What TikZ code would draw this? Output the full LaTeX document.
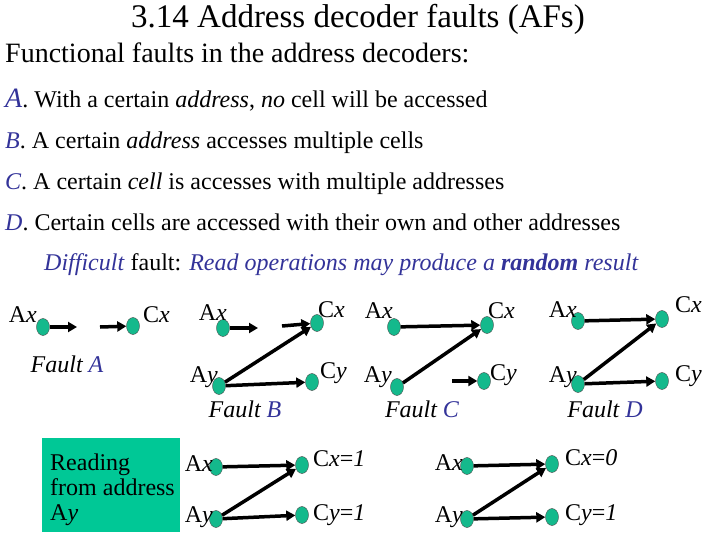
\documentclass[tikz,border=0pt]{standalone}
\usepackage{fontspec}
\setmainfont{Liberation Serif}
\usepackage{xcolor}
\usetikzlibrary{arrows.meta,positioning,shapes.geometric,backgrounds}
\definecolor{letter}{HTML}{333399}
\definecolor{cellfill}{HTML}{14B98C}
\definecolor{boxfill}{HTML}{00C896}

\begin{document}
\begin{tikzpicture}[x=1pt,y=-1pt,
  cell/.style={ellipse,draw=black!70,fill=cellfill,minimum width=13pt,
               minimum height=17pt,inner sep=0pt},
  arr/.style={-{Triangle[length=9pt,width=10pt]},line width=3.5pt},
  lbl/.style={font=\fontsize{24}{25}\selectfont,inner sep=0pt},
  lbll/.style={lbl,anchor=base east},
  lblr/.style={lbl,anchor=base west},
  item/.style={lbl,anchor=base west}
]
\useasboundingbox (0,0) rectangle (720,540);

% heading and the list of faults
\node[font=\fontsize{33}{38}\selectfont,anchor=base,inner sep=0pt] (title) at (358,28)
  {3.14 Address decoder faults (AFs)};
\node[font=\fontsize{28}{32}\selectfont,anchor=base west,inner sep=0pt] (intro) at (5,63)
  {Functional faults in the address decoders:};
\node[item] (ia) at (5,108) {{\fontsize{28}{32}\selectfont\textit{\color{letter}A}}. With a certain
  \textit{address}, \textit{no} cell will be accessed};
\node[item] (ib) at (5,149) {\textit{\color{letter}B}. A certain \textit{address} accesses multiple cells};
\node[item] (ic) at (5,190) {\textit{\color{letter}C}. A certain \textit{cell} is accesses with multiple addresses};
\node[item] (id) at (5,230) {\textit{\color{letter}D}. Certain cells are accessed with their own and other addresses};
\node[item] (hard) at (44,270) {\color{letter}\textit{Difficult} {\color{black}fault:}
  \textit{Read operations may produce a \textbf{random} result}};

% fault A
\node[cell] (axA) at (43,327) {};
\node[cell] (cxA) at (133,326) {};
\node[lbll] (axAl) at (37,322) {A\textit{x}};
\node[lblr] (cxAl) at (143,322) {C\textit{x}};
\coordinate (brkA1) at (77,327);
\coordinate (brkA2) at (100,327);
\draw[arr] (axA) -- (brkA1);
\draw[arr] (brkA2) -- (cxA);
\node[lbl,anchor=base] (fA) at (67,372) {\textit{Fault {\color{letter}A}}};

% fault B
\node[cell] (axB) at (223,328) {};
\node[cell] (cxB) at (317,323) {};
\node[cell] (ayB) at (219,386) {};
\node[cell] (cyB) at (312,382) {};
\node[lbll] (axBl) at (227,320) {A\textit{x}};
\node[lblr] (cxBl) at (318,317) {C\textit{x}};
\node[lbll] (ayBl) at (218,382) {A\textit{y}};
\node[lblr] (cyBl) at (320,378) {C\textit{y}};
\coordinate (brkB1) at (258,328);
\coordinate (brkB2) at (282,326);
\draw[arr] (axB) -- (brkB1);
\draw[arr] (brkB2) -- (cxB);
\draw[arr] (ayB) -- (cxB);
\draw[arr] (ayB) -- (cyB);
\node[lbl,anchor=base] (fB) at (245,417) {\textit{Fault {\color{letter}B}}};

% fault C
\node[cell] (axC) at (394,327) {};
\node[cell] (cxC) at (487,325) {};
\node[cell] (ayC) at (397,387) {};
\node[cell] (cyC) at (484,381) {};
\node[lbll] (axCl) at (393,318) {A\textit{x}};
\node[lblr] (cxCl) at (488,318) {C\textit{x}};
\node[lbll] (ayCl) at (392,382) {A\textit{y}};
\node[lblr] (cyCl) at (490,380) {C\textit{y}};
\coordinate (brkC) at (452,381);
\draw[arr] (axC) -- (cxC);
\draw[arr] (ayC) -- (cxC);
\draw[arr] (brkC) -- (cyC);
\node[lbl,anchor=base] (fC) at (422,417) {\textit{Fault {\color{letter}C}}};

% fault D
\node[cell] (axD) at (578,321) {};
\node[cell] (cxD) at (662,319) {};
\node[cell] (ayD) at (578,384) {};
\node[cell] (cyD) at (662,381) {};
\node[lbll] (axDl) at (577,317) {A\textit{x}};
\node[lblr] (cxDl) at (675,312) {C\textit{x}};
\node[lbll] (ayDl) at (577,382) {A\textit{y}};
\node[lblr] (cyDl) at (675,381) {C\textit{y}};
\draw[arr] (axD) -- (cxD);
\draw[arr] (ayD) -- (cxD);
\draw[arr] (ayD) -- (cyD);
\node[lbl,anchor=base] (fD) at (605,417) {\textit{Fault {\color{letter}D}}};

% reading from Ay
\node[fill=boxfill,minimum width=138pt,minimum height=94pt,inner sep=0pt,anchor=north west]
  (readbox) at (42,438) {};
\node[lbl,anchor=base west,align=left] (readtxt) at (50,520)
  {Reading\\from address\\A\textit{y}};

\node[cell] (axR) at (216,467) {};
\node[cell] (cxR) at (302,465) {};
\node[cell] (ayR) at (216,519) {};
\node[cell] (cyR) at (302,515) {};
\node[lbll] (axRl) at (213,471) {A\textit{x}};
\node[lblr] (cxRl) at (313,466) {C\textit{x}=\textit{1}};
\node[lbll] (ayRl) at (213,522) {A\textit{y}};
\node[lblr] (cyRl) at (313,520) {C\textit{y}=\textit{1}};
\draw[arr] (axR) -- (cxR);
\draw[arr] (ayR) -- (cxR);
\draw[arr] (ayR) -- (cyR);

\node[cell] (axS) at (467,466) {};
\node[cell] (cxS) at (552,464) {};
\node[cell] (ayS) at (467,519) {};
\node[cell] (cyS) at (552,517) {};
\node[lbll] (axSl) at (463,470) {A\textit{x}};
\node[lblr] (cxSl) at (565,465) {C\textit{x}=\textit{0}};
\node[lbll] (aySl) at (463,522) {A\textit{y}};
\node[lblr] (cySl) at (565,520) {C\textit{y}=\textit{1}};
\draw[arr] (axS) -- (cxS);
\draw[arr] (ayS) -- (cxS);
\draw[arr] (ayS) -- (cyS);
\end{tikzpicture}
\end{document}
